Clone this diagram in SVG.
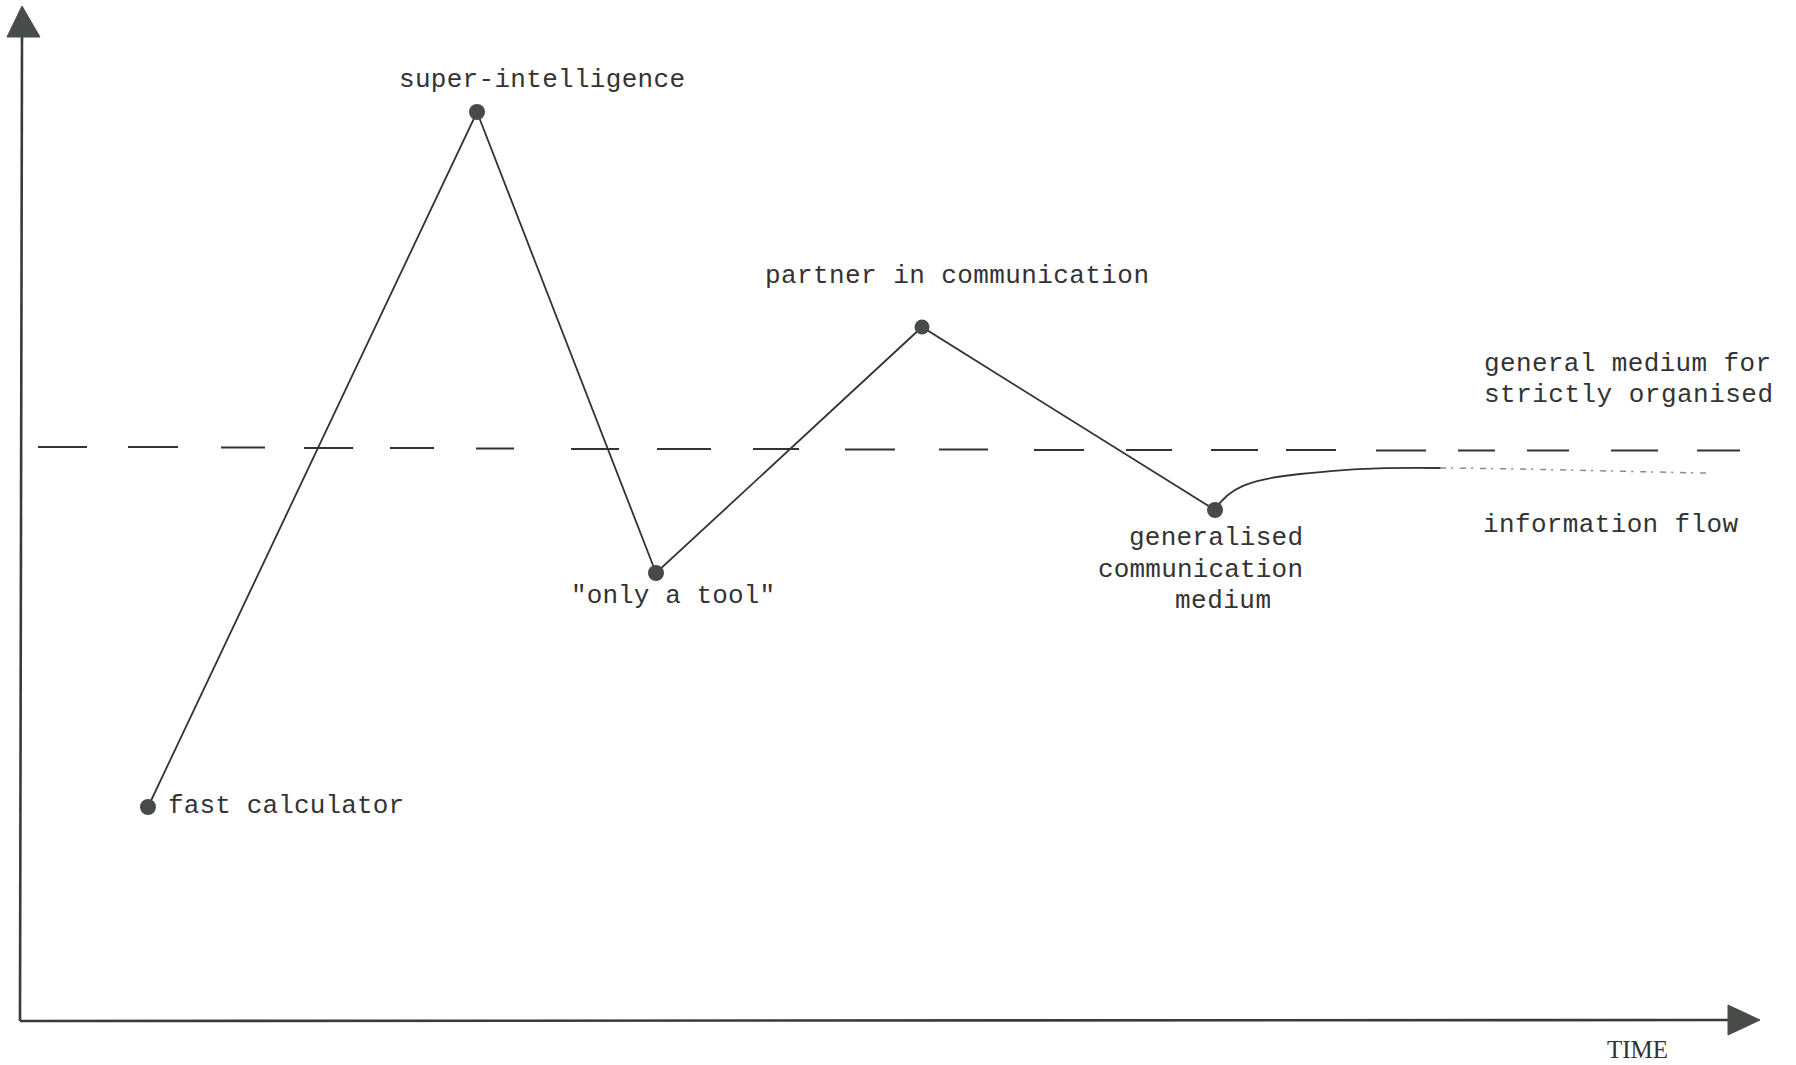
<svg xmlns="http://www.w3.org/2000/svg" width="1796" height="1065" viewBox="0 0 1796 1065">
<style>
.t{font-family:"Liberation Mono","DejaVu Sans Mono",monospace;font-size:26px;fill:#333;}
.s{font-family:"Liberation Serif","DejaVu Serif",serif;font-size:25px;fill:#333;}
.dot{fill:#464b48;}
.ln{stroke:#333;stroke-width:1.8;fill:none;stroke-linecap:round;}
.ax{stroke:#3a3a3a;stroke-width:2.6;fill:none;}
.ah{fill:#474c49;stroke:#474c49;stroke-width:1;stroke-linejoin:round;}
</style>
<rect width="1796" height="1065" fill="#fff"/>
<g id="axes">
<line class="ax" x1="22" y1="34" x2="20" y2="1021"/>
<line class="ax" x1="20" y1="1021" x2="1732" y2="1020"/>
<polygon class="ah" points="22,6 7,37 40,37"/>
<polygon class="ah" points="1728,1005 1760,1020 1728,1035"/>
<text class="s" x="1607" y="1058" textLength="61">TIME</text>
</g>
<g id="reference-line">
<path stroke="#333" stroke-width="2" fill="none" d="M38,447H87M128,447H178M221,447.5H265M304,448H353M390,448H434M476,448.5H514M571,449H619M657,449H711M753,449H799M845,449.5H895M939,449.5H988M1034,450H1084M1126,450H1172M1211,450H1258M1286,450H1336M1376,450.5H1426M1458,450.5H1495M1527,450.5H1569M1611,450.5H1658M1697,450.5H1740"/>
</g>
<g id="connectors">
<path class="ln" d="M148,807L477,112L656,573L922,327L1215,510"/>
<path class="ln" d="M1215,510C1228,488 1250,479 1300,474C1340,470 1370,467 1440,468"/>
<path stroke="#8a8a8a" stroke-width="1.5" fill="none" stroke-dasharray="6 5 2 7" d="M1440,468C1550,469 1640,472 1707,473"/>
</g>
<g id="node-fast-calculator">
<circle class="dot" cx="148" cy="807" r="8"/>
<text class="t" x="168" y="813" textLength="236">fast calculator</text>
</g>
<g id="node-super-intelligence">
<circle class="dot" cx="477" cy="112" r="8"/>
<text class="t" x="399" y="87" textLength="286">super-intelligence</text>
</g>
<g id="node-only-a-tool">
<circle class="dot" cx="656" cy="573" r="8"/>
<text class="t" x="571" y="603" textLength="204">"only a tool"</text>
</g>
<g id="node-partner">
<circle class="dot" cx="922" cy="327" r="7.5"/>
<text class="t" x="765" y="283" textLength="384">partner in communication</text>
</g>
<g id="node-generalised-medium">
<circle class="dot" cx="1215" cy="510" r="8"/>
<text class="t" x="1129" y="545" textLength="174">generalised</text>
<text class="t" x="1098" y="577" textLength="205">communication</text>
<text class="t" x="1175" y="608" textLength="96">medium</text>
</g>
<g id="label-general-medium">
<text class="t" x="1484" y="371" textLength="287">general medium for</text>
<text class="t" x="1484" y="402" textLength="289">strictly organised</text>
<text class="t" x="1483" y="532" textLength="255">information flow</text>
</g>
</svg>
